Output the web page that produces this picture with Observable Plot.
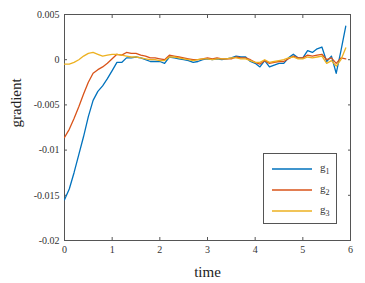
<!DOCTYPE html>
<html>
<head>
<meta charset="utf-8">
<script src="https://cdn.jsdelivr.net/npm/d3@7"></script>
<script src="https://cdn.jsdelivr.net/npm/@observablehq/plot@0.6"></script>
<style>
  html, body { margin: 0; padding: 0; background: #fff; }
  #wrap { position: relative; width: 365px; height: 283px; font-family: "Liberation Serif", serif; }
  #legend { position: absolute; left: 263px; top: 153px; width: 74px; height: 71px; border: 1px solid #555; background: #fff; box-sizing: border-box; }
  .row { position: absolute; left: 8px; height: 14px; display: flex; align-items: center; font-size: 11px; color: #333; }
  .row svg { margin-right: 8px; }
  sub { font-size: 8px; }
</style>
</head>
<body>
<div id="wrap"></div>
<script>
const time = [0,0.1,0.2,0.3,0.4,0.5,0.6,0.7,0.8,0.9,1.0,1.1,1.2,1.3,1.4,1.5,1.6,1.7,1.8,1.9,2.0,2.1,2.2,2.3,2.4,2.5,2.6,2.7,2.8,2.9,3.0,3.1,3.2,3.3,3.4,3.5,3.6,3.7,3.8,3.9,4.0,4.1,4.2,4.3,4.4,4.5,4.6,4.7,4.8,4.9,5.0,5.1,5.2,5.3,5.4,5.5,5.6,5.7,5.8,5.9];
const g1 = [-0.0155,-0.0143,-0.0125,-0.0105,-0.0085,-0.0063,-0.0045,-0.0035,-0.0029,-0.0021,-0.0012,-0.0003,-0.0003,0.0002,0.0002,0.0003,0.0002,0.0000,-0.0002,-0.0002,-0.0002,-0.0004,0.0003,0.0002,0.0001,0.0000,-0.0001,-0.0003,-0.0002,0.0000,0.0001,0.0000,0.0001,0.0000,0.0001,0.0002,0.0004,0.0003,0.0003,-0.0002,-0.0004,-0.0008,-0.0001,-0.0008,-0.0006,-0.0004,-0.0004,0.0002,0.0006,0.0002,0.0002,0.0010,0.0008,0.0012,0.0014,-0.0002,0.0004,-0.0015,0.0010,0.0037];
const g2 = [-0.0086,-0.0077,-0.0065,-0.0052,-0.0038,-0.0025,-0.0015,-0.0011,-0.0008,-0.0004,0.0001,0.0006,0.0005,0.0008,0.0007,0.0007,0.0005,0.0004,0.0002,0.0002,0.0001,0.0000,0.0005,0.0004,0.0003,0.0002,0.0001,0.0000,0.0000,0.0001,0.0002,0.0001,0.0002,0.0001,0.0001,0.0001,0.0003,0.0002,0.0002,0.0000,-0.0003,-0.0005,-0.0001,-0.0004,-0.0003,-0.0002,-0.0002,0.0001,0.0004,0.0002,0.0002,0.0005,0.0004,0.0005,0.0006,0.0000,0.0002,-0.0004,0.0002,0.0001];
const g3 = [-0.0005,-0.0005,-0.0003,0.0000,0.0004,0.0007,0.0008,0.0006,0.0004,0.0005,0.0006,0.0006,0.0005,0.0004,0.0003,0.0003,0.0002,0.0001,0.0000,0.0000,-0.0001,-0.0001,0.0003,0.0003,0.0002,0.0001,0.0000,-0.0001,0.0000,0.0001,0.0001,0.0000,0.0001,0.0001,0.0001,0.0002,0.0002,0.0001,0.0001,-0.0001,-0.0003,-0.0003,0.0000,-0.0003,-0.0002,-0.0001,0.0000,0.0002,0.0003,0.0001,0.0001,0.0003,0.0002,0.0003,0.0004,-0.0004,-0.0001,-0.0007,0.0000,0.0013];
const seriesNames = ["g1","g2","g3"];
const seriesColors = ["#0072BD","#D95319","#EDB120"];
const xTicks = [0,1,2,3,4,5,6];
const xTickLabels = ["0","1","2","3","4","5","6"];
const yTicks = [0.005,0,-0.005,-0.01,-0.015,-0.02];
const yTickLabels = ["0.005","0","-0.005","-0.01","-0.015","-0.02"];

const data = [];
[g1,g2,g3].forEach((s,i) => s.forEach((v,j) => data.push({time: time[j], value: v, series: seriesNames[i]})));

const axisColor = "#555";
const chart = Plot.plot({
  width: 365, height: 283,
  marginLeft: 64, marginRight: 15, marginTop: 14, marginBottom: 43,
  style: {fontFamily: "Liberation Serif, serif", fontSize: "10px", color: "#333", background: "#fff"},
  x: {domain: [0,6]},
  y: {domain: [-0.02, 0.005]},
  color: {domain: seriesNames, range: seriesColors},
  marks: [
    Plot.frame({stroke: axisColor, strokeWidth: 1}),
    Plot.axisX({ticks: xTicks, tickSize: -3, tickPadding: 8, tickFormat: d => xTickLabels[xTicks.indexOf(d)], stroke: axisColor, label: null}),
    Plot.axisX({anchor: "top", ticks: xTicks, tickSize: -3, tickFormat: () => "", stroke: axisColor, label: null}),
    Plot.axisY({ticks: yTicks, tickSize: -3, tickPadding: 8, tickFormat: d => yTickLabels[yTicks.indexOf(d)], stroke: axisColor, label: null}),
    Plot.axisY({anchor: "right", ticks: yTicks, tickSize: -3, tickFormat: () => "", stroke: axisColor, label: null}),
    Plot.line(data, {x: "time", y: "value", z: "series", stroke: "series", strokeWidth: 1.3, clip: true}),
    Plot.text(["time"], {frameAnchor: "bottom", dy: 36, fontSize: 15, fill: "#222"}),
    Plot.text(["gradient"], {frameAnchor: "left", dx: -48, rotate: -90, fontSize: 15, fill: "#222"})
  ]
});
const wrap = document.getElementById("wrap");
wrap.appendChild(chart);
const legend = document.createElement("div");
legend.id = "legend";
const labels = ["g<sub>1</sub>","g<sub>2</sub>","g<sub>3</sub>"];
seriesNames.forEach((n,i) => {
  const r = document.createElement("div");
  r.className = "row";
  r.style.top = (8 + i*21) + "px";
  r.innerHTML = `<svg width="40" height="4"><line x1="0" x2="40" y1="2" y2="2" stroke="${seriesColors[i]}" stroke-width="1.6"/></svg><span>${labels[i]}</span>`;
  legend.appendChild(r);
});
wrap.appendChild(legend);
</script>
</body>
</html>
